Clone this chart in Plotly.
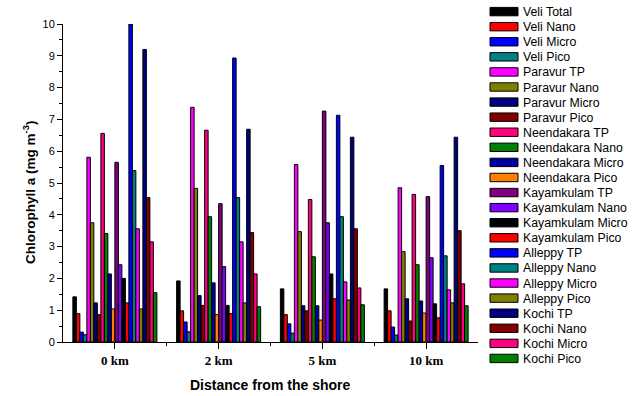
import plotly.graph_objects as go

categories = ["0 km", "2 km", "5 km", "10 km"]

series_names = [
    "Veli Total", "Veli Nano", "Veli Micro", "Veli Pico",
    "Paravur TP", "Paravur Nano", "Paravur Micro", "Paravur Pico",
    "Neendakara TP", "Neendakara Nano", "Neendakara Micro", "Neendakara Pico",
    "Kayamkulam TP", "Kayamkulam Nano", "Kayamkulam Micro", "Kayamkulam Pico",
    "Alleppy TP", "Alleppy Nano", "Alleppy Micro", "Alleppy Pico",
    "Kochi TP", "Kochi Nano", "Kochi Micro", "Kochi Pico",
]

series_colors = [
    "#000000", "#FF0000", "#0000FF", "#008080",
    "#FF00FF", "#808000", "#000080", "#800000",
    "#FF0080", "#008000", "#0000A0", "#FF8000",
    "#800080", "#8000FF", "#000000", "#FF0000",
    "#0000FF", "#008080", "#FF00FF", "#808000",
    "#000080", "#800000", "#FF0080", "#008000",
]

# values per series: [0 km, 2 km, 5 km, 10 km]
veli_total = [1.42, 1.92, 1.67, 1.67]
veli_nano = [0.89, 0.98, 0.86, 0.98]
veli_micro = [0.31, 0.63, 0.57, 0.47]
veli_pico = [0.23, 0.32, 0.28, 0.22]
paravur_tp = [5.81, 7.38, 5.58, 4.85]
paravur_nano = [3.75, 4.83, 3.47, 2.84]
paravur_micro = [1.23, 1.46, 1.14, 1.36]
paravur_pico = [0.86, 1.15, 0.98, 0.66]
neendakara_tp = [6.56, 6.66, 4.48, 4.64]
neendakara_nano = [3.41, 3.94, 2.68, 2.43]
neendakara_micro = [2.14, 1.86, 1.14, 1.29]
neendakara_pico = [1.04, 0.86, 0.69, 0.91]
kayamkulam_tp = [5.65, 4.35, 7.26, 4.57]
kayamkulam_nano = [2.43, 2.37, 3.75, 2.65]
kayamkulam_micro = [2.00, 1.15, 2.14, 1.20]
kayamkulam_pico = [1.23, 0.89, 1.36, 0.76]
alleppy_tp = [10.0, 8.93, 7.13, 5.55]
alleppy_nano = [5.39, 4.54, 3.94, 2.71]
alleppy_micro = [3.56, 3.15, 1.89, 1.64]
alleppy_pico = [1.04, 1.23, 1.32, 1.23]
kochi_tp = [9.20, 6.69, 6.44, 6.44]
kochi_nano = [4.54, 3.44, 3.56, 3.50]
kochi_micro = [3.15, 2.14, 1.70, 1.83]
kochi_pico = [1.55, 1.11, 1.17, 1.14]

series_values = [
    veli_total, veli_nano, veli_micro, veli_pico,
    paravur_tp, paravur_nano, paravur_micro, paravur_pico,
    neendakara_tp, neendakara_nano, neendakara_micro, neendakara_pico,
    kayamkulam_tp, kayamkulam_nano, kayamkulam_micro, kayamkulam_pico,
    alleppy_tp, alleppy_nano, alleppy_micro, alleppy_pico,
    kochi_tp, kochi_nano, kochi_micro, kochi_pico,
]

W, H = 636, 396
L, R, T, B = 63, 158, 24, 54
pw, ph = W - L - R, H - T - B

fig = go.Figure()
xpos = list(range(len(categories)))
for name, col, vals in zip(series_names, series_colors, series_values):
    fig.add_trace(go.Bar(
        x=xpos, y=vals, name=name,
        marker=dict(color=col, line=dict(color="black", width=1)),
        showlegend=False, hoverinfo="skip",
    ))

def px_to_paper(px, py):
    return (px - L) / pw, (H - B - py) / ph

# compact manual legend, like the original
row_h = 15.08
y0 = 11.6
shapes = []
annotations = []
for i, (name, col) in enumerate(zip(series_names, series_colors)):
    cy = y0 + i * row_h
    xa, ya = px_to_paper(490, cy - 4.2)
    xb, yb = px_to_paper(518, cy + 4.2)
    shapes.append(dict(type="rect", xref="paper", yref="paper",
                       x0=xa, x1=xb, y0=yb, y1=ya,
                       fillcolor=col, line=dict(color="black", width=1)))
    tx, ty = px_to_paper(521, cy + 0.5)
    annotations.append(dict(xref="paper", yref="paper", x=tx, y=ty,
                            xanchor="left", yanchor="middle", showarrow=False,
                            text=name,
                            font=dict(family="Arial, Liberation Sans", size=12.3, color="black")))

# axis titles
tx, ty = px_to_paper(29, 193)
annotations.append(dict(xref="paper", yref="paper", x=tx, y=ty, textangle=-90,
                        xanchor="center", yanchor="middle", showarrow=False,
                        text="Chlorophyll a (mg m<sup>-3</sup>)",
                        font=dict(family="Arial, Liberation Sans", size=13.5, color="black", weight="bold")))
tx, ty = px_to_paper(270, 385)
annotations.append(dict(xref="paper", yref="paper", x=tx, y=ty,
                        xanchor="center", yanchor="middle", showarrow=False,
                        text="Distance from the shore",
                        font=dict(family="Arial, Liberation Sans", size=14, color="black", weight="bold")))

fig.update_layout(
    width=W, height=H,
    margin=dict(l=L, r=R, t=T, b=B, pad=0, autoexpand=False),
    paper_bgcolor="white", plot_bgcolor="white",
    barmode="group", bargap=0.19, bargroupgap=0,
    shapes=shapes, annotations=annotations,
    xaxis=dict(
        range=[-0.5, 3.5], tickmode="array", tickvals=xpos, ticktext=categories,
        automargin=False,
        showline=True, linecolor="black", linewidth=1, showgrid=False, zeroline=False,
        ticks="outside", ticklen=6, tickcolor="black", tickwidth=1,
        tickfont=dict(family="Liberation Serif, Times New Roman", size=13, color="black", weight="bold"),
        minor=dict(tickvals=[0.5, 1.5, 2.5], ticks="outside", ticklen=3, tickcolor="black"),
    ),
    yaxis=dict(
        range=[0, 10], dtick=1, tick0=0,
        automargin=False,
        showline=True, linecolor="black", linewidth=1, showgrid=False, zeroline=False,
        ticks="outside", ticklen=5, tickcolor="black", tickwidth=1,
        tickfont=dict(family="Arial, Liberation Sans", size=11, color="black"),
        minor=dict(dtick=0.5, tick0=0, ticks="outside", ticklen=3, tickcolor="black"),
    ),
)

fig.write_html("out.html", config={"displayModeBar": False, "staticPlot": True},
               post_script="document.body.style.margin='0';")
